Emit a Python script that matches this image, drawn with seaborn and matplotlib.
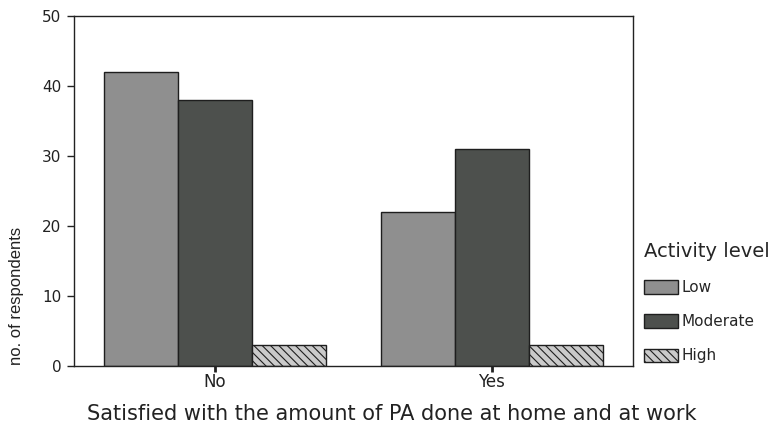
import matplotlib
matplotlib.use("Agg")
import matplotlib.pyplot as plt
from matplotlib.patches import Patch
import pandas as pd
import seaborn as sns

# data
satisfied = ["No", "Yes"]
levels = ["Low", "Moderate", "High"]
low = [42, 22]
moderate = [38, 31]
high = [3, 3]

colors = {"Low": "#8f8f8f", "Moderate": "#4d504d", "High": "#cacaca"}
hatch = "\\\\\\\\"

df = pd.DataFrame({
    "satisfied": satisfied * 3,
    "level": [l for l in levels for _ in satisfied],
    "count": low + moderate + high,
})

sns.set_style("ticks")
plt.rcParams["font.family"] = ["DejaVu Sans"]
plt.rcParams["hatch.color"] = "#7a7a7a"
plt.rcParams["hatch.linewidth"] = 0.8

fig = plt.figure(figsize=(7.76, 4.24), dpi=100)
ax = fig.add_axes([0.0954, 0.1368, 0.7203, 0.8255])

sns.barplot(data=df, x="satisfied", y="count", hue="level", hue_order=levels,
            palette=colors, width=0.8, edgecolor="#1e1e1e", linewidth=1.0,
            saturation=1, legend=False, ax=ax)

for bar in ax.containers[2]:
    bar.set_hatch(hatch)

ax.set_xlim(-0.51, 1.51)
ax.set_ylim(0, 50)
ax.set_yticks([0, 10, 20, 30, 40, 50])
for s in ax.spines.values():
    s.set_visible(True)
    s.set_color("#222222")
    s.set_linewidth(1.0)

ax.tick_params(axis="y", labelsize=11, length=5, width=1, pad=4, colors="#222222")
ax.tick_params(axis="x", labelsize=12, length=4, width=2, pad=1, colors="#222222")

ax.set_xlabel("Satisfied with the amount of PA done at home and at work",
              fontsize=15, color="#222222")
ax.xaxis.set_label_coords(0.569, -0.108)
ax.xaxis.label.set_va("top")
ax.set_ylabel("no. of respondents", fontsize=12, color="#222222",
              family=["Liberation Sans Narrow", "Liberation Sans"])
ax.yaxis.set_label_coords(-0.09, 0.2)

handles = [Patch(facecolor=colors[l], edgecolor="#1e1e1e", linewidth=1.0,
                 hatch=(hatch if l == "High" else None)) for l in levels]
leg = fig.legend(handles, levels, title="Activity level", loc="upper left",
                 bbox_to_anchor=(0.82, 0.447), frameon=False, fontsize=11,
                 title_fontsize=14, handlelength=2.2, handleheight=0.95,
                 labelspacing=1.25, handletextpad=0.25, borderpad=0,
                 alignment="left")

fig.savefig("out.png", dpi=100)
